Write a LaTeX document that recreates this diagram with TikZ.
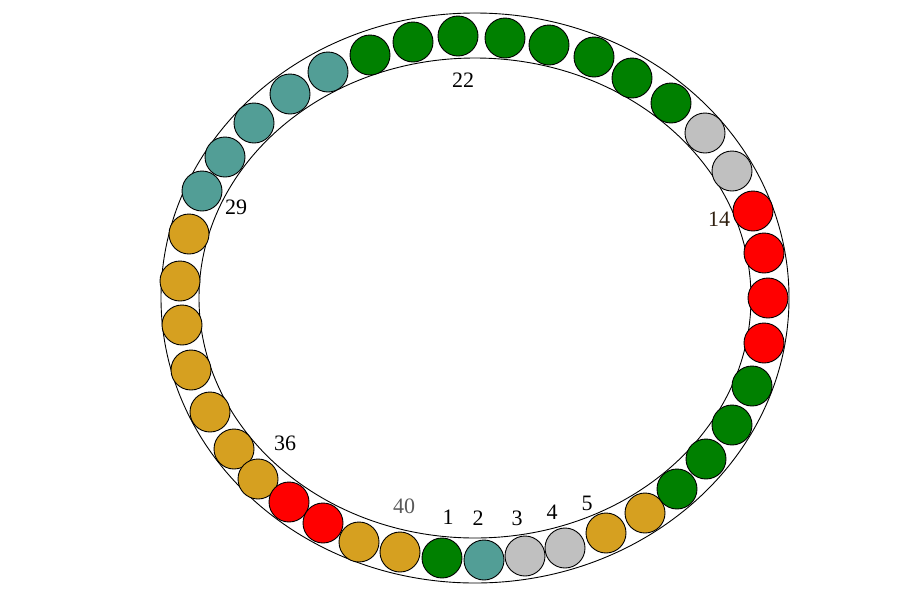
\documentclass[tikz,border=0pt]{standalone}
\usepackage{fontspec}
\setmainfont{Liberation Serif}
\definecolor{ringgreen}{RGB}{0,128,0}
\definecolor{ringteal}{RGB}{82,158,150}
\definecolor{ringgray}{RGB}{192,192,192}
\definecolor{ringgold}{RGB}{214,160,32}
\definecolor{ringred}{RGB}{255,0,0}
\tikzset{
  ball/.style={circle, draw=black, line width=0.9pt, minimum size=40pt, inner sep=0pt},
  num/.style={font=\fontsize{22}{24}\selectfont, inner sep=0pt}
}
\begin{document}
\begin{tikzpicture}[x=1pt, y=-1pt]
  \useasboundingbox (0,0) rectangle (920,603);
  % Ring
  \draw[line width=0.9pt] (475,298) ellipse [x radius=314, y radius=285];
  \draw[line width=0.9pt] (475,298) ellipse [x radius=276, y radius=240];
  % Balls
  \foreach \i/\x/\y/\c in {
      1/442/558/ringgreen, 2/484/560/ringteal, 3/525/556/ringgray, 4/565/548/ringgray,
      5/606/533/ringgold, 6/645/513/ringgold, 7/677/489/ringgreen, 8/706/459/ringgreen,
      9/732/425/ringgreen, 10/752/386/ringgreen, 11/764/343/ringred, 12/768/298/ringred,
      13/764/253/ringred, 14/753/211/ringred, 15/732/171/ringgray, 16/705/133/ringgray,
      17/671/103/ringgreen, 18/632/78/ringgreen, 19/594/57/ringgreen, 20/549/45/ringgreen,
      21/505/38/ringgreen, 22/458/36/ringgreen, 23/413/42/ringgreen, 24/370/55/ringgreen,
      25/328/72/ringteal, 26/290/94/ringteal, 27/254/123/ringteal, 28/225/157/ringteal,
      29/202/191/ringteal, 30/189/234/ringgold, 31/180/281/ringgold, 32/182/325/ringgold,
      33/191/370/ringgold, 34/210/412/ringgold, 35/234/449/ringgold, 36/258/479/ringgold,
      37/289/502/ringred, 38/323/523/ringred, 39/359/542/ringgold, 40/400/552/ringgold}
    \node[ball, fill=\c] (c\i) at (\x,\y) {};
  % Numbers
  \foreach \i/\x/\y in {1/448/517, 2/478/518, 3/517/518, 4/552/512, 5/587/503,
      22/463/80, 29/236/207, 36/285/443}
    \node[num] (l\i) at (\x,\y) {\i};
  \node[num, text=black!75!brown] (l14) at (719,219) {14};
  \node[num, text=black!65] (l40) at (404,506) {40};
\end{tikzpicture}
\end{document}
